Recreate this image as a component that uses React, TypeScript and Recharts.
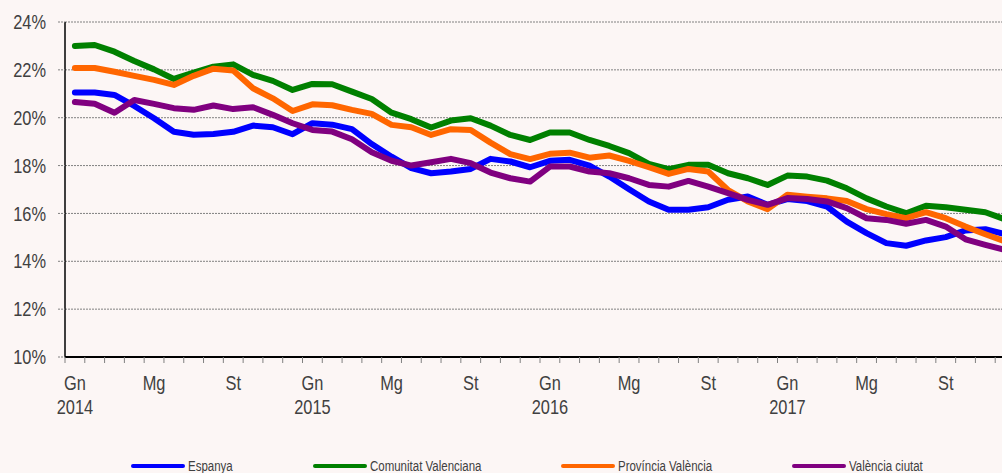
import { CartesianGrid, Line, LineChart, XAxis, YAxis } from "recharts";

const YEARS = ["2014", "2015", "2016", "2017"];
const MONTHS = ["Gn", "Fb", "Mç", "Ab", "Mg", "Jn", "Jl", "Ag", "St", "Oc", "Nv", "Ds"];
const TICK_MONTHS = ["Gn", "Mg", "St"];
const CATEGORIES = YEARS.flatMap((y) => MONTHS.map((m) => `${m} ${y}`));

const ESPANYA = [
	21.05, 21.05, 20.95, 20.49, 19.98, 19.41, 19.29, 19.32, 19.41, 19.67, 19.6, 19.31,
	19.77, 19.71, 19.52, 18.9, 18.37, 17.89, 17.68, 17.75, 17.86, 18.28, 18.17, 17.93,
	18.2, 18.24, 18.0, 17.54, 17.01, 16.5, 16.15, 16.15, 16.26, 16.57, 16.71, 16.36,
	16.6, 16.52, 16.29, 15.66, 15.18, 14.76, 14.65, 14.87, 15.01, 15.29, 15.34, 15.13,
];
const COMUNITAT = [
	23.0, 23.04, 22.76, 22.37, 22.02, 21.62, 21.88, 22.13, 22.23, 21.79, 21.54, 21.16,
	21.41, 21.4, 21.09, 20.78, 20.21, 19.94, 19.59, 19.88, 19.98, 19.67, 19.28, 19.07,
	19.38, 19.38, 19.07, 18.82, 18.52, 18.07, 17.85, 18.03, 18.03, 17.68, 17.47, 17.19,
	17.58, 17.54, 17.37, 17.05, 16.63, 16.29, 16.01, 16.32, 16.26, 16.15, 16.05, 15.75,
];
const PROVINCIA = [
	22.08, 22.08, 21.92, 21.75, 21.58, 21.37, 21.75, 22.05, 21.97, 21.23, 20.81, 20.28,
	20.56, 20.52, 20.33, 20.16, 19.7, 19.6, 19.28, 19.52, 19.49, 18.96, 18.48, 18.27,
	18.49, 18.54, 18.33, 18.42, 18.2, 17.93, 17.65, 17.86, 17.75, 16.98, 16.5, 16.18,
	16.78, 16.7, 16.63, 16.52, 16.18, 15.97, 15.8, 16.05, 15.8, 15.45, 15.13, 14.83,
];
const VALENCIA = [
	20.66, 20.58, 20.21, 20.74, 20.58, 20.4, 20.33, 20.51, 20.36, 20.44, 20.12, 19.77,
	19.49, 19.42, 19.1, 18.56, 18.2, 18.0, 18.14, 18.28, 18.1, 17.71, 17.47, 17.33,
	17.96, 17.96, 17.75, 17.68, 17.47, 17.19, 17.12, 17.36, 17.12, 16.85, 16.57, 16.36,
	16.64, 16.6, 16.5, 16.22, 15.8, 15.73, 15.57, 15.73, 15.45, 14.92, 14.69, 14.47,
];

const Y_TICKS = [10, 12, 14, 16, 18, 20, 22, 24];

const SERIES = [
	{ key: "espanya", name: "Espanya", color: "#0000ff", values: ESPANYA, legendX: 131 },
	{ key: "comunitat", name: "Comunitat Valenciana", color: "#008000", values: COMUNITAT, legendX: 313 },
	{ key: "provincia", name: "Província València", color: "#ff6600", values: PROVINCIA, legendX: 561 },
	{ key: "valencia", name: "València ciutat", color: "#800080", values: VALENCIA, legendX: 792 },
];

// no Arial Narrow here: squeeze Liberation Sans instead
const FONT = "'Liberation Sans', Arial, sans-serif";
const NARROW = 0.82;
const TEXT = "#404040";
const BG = "#fcf6f5";

const W = 1016;
const H = 473;
const MARGIN = { top: 22, right: 1, bottom: 0, left: 0 };
const Y_AXIS_W = 65;
const X_AXIS_H = 116;
const N = CATEGORIES.length;
const STEP = (W - Y_AXIS_W - MARGIN.left - MARGIN.right) / N;

const data = CATEGORIES.map((c, i) => {
	const row: Record<string, number | string> = { i, label: c };
	SERIES.forEach((s) => {
		row[s.key] = s.values[i];
	});
	return row;
});

// tick marks sit between months, labels sit on the month itself
const boundaries = Array.from({ length: N + 1 }, (_, k) => k - 0.5);

function NarrowText({ x, y, anchor, dy, children }: any) {
	return (
		<g transform={`translate(${x},${y})`}>
			<text
				x={0}
				y={0}
				dy={dy}
				textAnchor={anchor}
				transform={`scale(${NARROW},1)`}
				fill={TEXT}
				fontSize={20}
				fontFamily={FONT}
			>
				{children}
			</text>
		</g>
	);
}

function MonthTick(props: any) {
	const { x, y, payload } = props;
	const k = Math.round(payload.value + 0.5);
	if (k >= N || !TICK_MONTHS.includes(MONTHS[k % 12])) return <g />;
	const cx = x + STEP / 2;
	return (
		<g>
			<NarrowText x={cx} y={y + 25} anchor="middle">
				{MONTHS[k % 12]}
			</NarrowText>
			{k % 12 === 0 && (
				<NarrowText x={cx} y={y + 49} anchor="middle">
					{YEARS[k / 12]}
				</NarrowText>
			)}
		</g>
	);
}

function PctTick(props: any) {
	const { x, y, payload } = props;
	return (
		<NarrowText x={x} y={y} anchor="end" dy="0.355em">
			{`${payload.value}%`}
		</NarrowText>
	);
}

export default function App() {
	return (
		<div
			style={{
				position: "absolute",
				left: 0,
				top: 0,
				width: 1002,
				height: H,
				overflow: "hidden",
				background: BG,
				fontFamily: FONT,
			}}
		>
			<LineChart width={W} height={H} data={data} margin={MARGIN}>
				<CartesianGrid vertical={false} stroke="#808080" strokeDasharray="2 1" />
				<XAxis
					dataKey="i"
					type="number"
					domain={[-0.5, N - 0.5]}
					ticks={boundaries}
					interval={0}
					height={X_AXIS_H}
					axisLine={{ stroke: "#000", strokeWidth: 2 }}
					tickLine={{ stroke: "#808080" }}
					tickSize={6}
					tick={<MonthTick />}
				/>
				<YAxis
					domain={[10, 24]}
					ticks={Y_TICKS}
					width={Y_AXIS_W}
					axisLine={{ stroke: "#000", strokeWidth: 1.5 }}
					tickLine={{ stroke: "#808080", strokeDasharray: "2 1" }}
					tickSize={7}
					tickMargin={12}
					tick={<PctTick />}
				/>
				{SERIES.map((s) => (
					<Line
						key={s.key}
						type="linear"
						dataKey={s.key}
						name={s.name}
						stroke={s.color}
						strokeWidth={6}
						strokeLinecap="round"
						strokeLinejoin="round"
						dot={false}
						isAnimationActive={false}
					/>
				))}
			</LineChart>
			{SERIES.map((s) => (
				<div
					key={s.key}
					style={{
						position: "absolute",
						left: s.legendX,
						top: 457,
						height: 18,
						display: "flex",
						alignItems: "center",
						fontSize: 14,
						lineHeight: "18px",
						color: TEXT,
						whiteSpace: "nowrap",
					}}
				>
					<span
						style={{
							display: "inline-block",
							width: 54,
							height: 4,
							borderRadius: 2,
							background: s.color,
							marginRight: 3,
						}}
					/>
					<span
						style={{
							display: "inline-block",
							transform: `scaleX(${NARROW})`,
							transformOrigin: "left center",
						}}
					>
						{s.name}
					</span>
				</div>
			))}
		</div>
	);
}
